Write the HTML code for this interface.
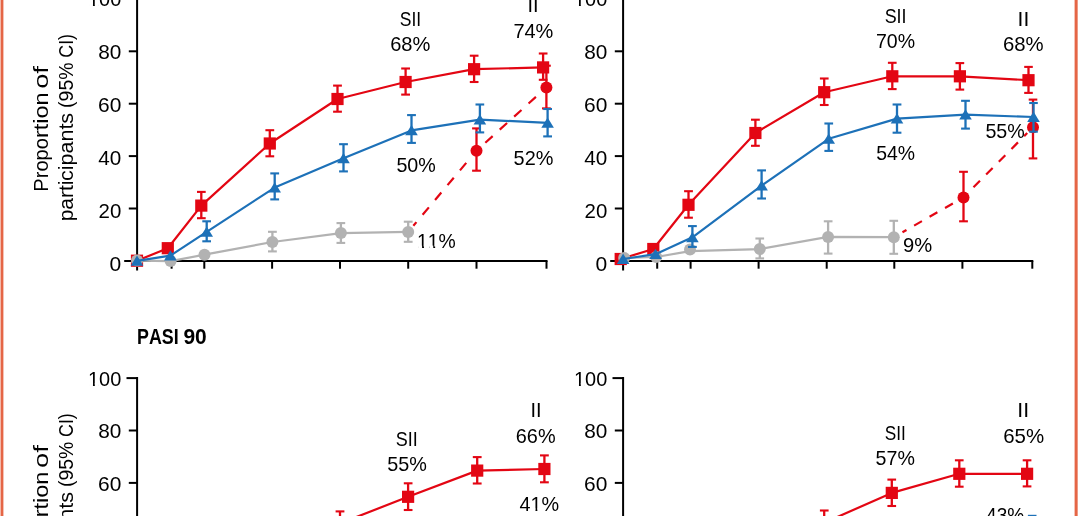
<!DOCTYPE html>
<html lang="en"><head><meta charset="utf-8"><title>PASI response figure</title>
<style>html,body{margin:0;padding:0;background:#fff}body{width:1078px;height:516px;overflow:hidden}svg{display:block}text{font-family:"Liberation Sans",sans-serif;fill:#000;font-kerning:none}</style>
</head><body>
<svg width="1078" height="516" viewBox="0 0 1078 516">
<rect width="1078" height="516" fill="#fff"/>
<rect x="0.55" y="-5" width="2.85" height="530" fill="#E56646"/>
<rect x="1074.6" y="-5" width="3.05" height="530" fill="#E56646"/>
<g id="chartA">
<line x1="137.1" y1="-2.1" x2="137.1" y2="270.5" stroke="#000" stroke-width="2"/>
<line x1="124.2" y1="260.9" x2="547.5" y2="260.9" stroke="#000" stroke-width="2"/>
<line x1="171.6" y1="260.9" x2="171.6" y2="268.7" stroke="#000" stroke-width="2"/>
<line x1="204.3" y1="260.9" x2="204.3" y2="268.7" stroke="#000" stroke-width="2"/>
<line x1="272.1" y1="260.9" x2="272.1" y2="268.7" stroke="#000" stroke-width="2"/>
<line x1="340.0" y1="260.9" x2="340.0" y2="268.7" stroke="#000" stroke-width="2"/>
<line x1="408.2" y1="260.9" x2="408.2" y2="268.7" stroke="#000" stroke-width="2"/>
<line x1="476.5" y1="260.9" x2="476.5" y2="268.7" stroke="#000" stroke-width="2"/>
<line x1="546.5" y1="260.9" x2="546.5" y2="268.7" stroke="#000" stroke-width="2"/>
<line x1="128.8" y1="208.5" x2="137.1" y2="208.5" stroke="#000" stroke-width="2"/>
<line x1="128.8" y1="156.1" x2="137.1" y2="156.1" stroke="#000" stroke-width="2"/>
<line x1="128.8" y1="103.7" x2="137.1" y2="103.7" stroke="#000" stroke-width="2"/>
<line x1="128.8" y1="51.3" x2="137.1" y2="51.3" stroke="#000" stroke-width="2"/>
<line x1="126.5" y1="-1.1" x2="137.1" y2="-1.1" stroke="#000" stroke-width="2"/>
<text x="109.61" y="270.75" font-size="20.4" textLength="11.70" lengthAdjust="spacingAndGlyphs">0</text>
<text x="98.58" y="218.30" font-size="20.4" textLength="22.74" lengthAdjust="spacingAndGlyphs">20</text>
<text x="98.33" y="165.20" font-size="20.4" textLength="22.99" lengthAdjust="spacingAndGlyphs">40</text>
<text x="98.05" y="112.20" font-size="20.4" textLength="23.28" lengthAdjust="spacingAndGlyphs">60</text>
<text x="98.22" y="58.97" font-size="20.4" textLength="23.11" lengthAdjust="spacingAndGlyphs">80</text>
<text x="88.00" y="6.40" font-size="20.4" textLength="33.26" lengthAdjust="spacingAndGlyphs">100</text>
<rect x="89.02" y="3.87" width="3.94" height="3.03" fill="#fff"/>
<rect x="94.83" y="3.87" width="3.78" height="3.03" fill="#fff"/>
<text transform="translate(47.80,0) rotate(-90)" font-size="20.4"><tspan x="-191.66" textLength="53.58" lengthAdjust="spacingAndGlyphs">Propo</tspan><tspan x="-138.13" textLength="45.70" lengthAdjust="spacingAndGlyphs">rtion</tspan> <tspan x="-88.86" textLength="22.84" lengthAdjust="spacingAndGlyphs">of</tspan></text>
<text transform="translate(72.70,0) rotate(-90)" font-size="20.4"><tspan x="-221.36" textLength="40.79" lengthAdjust="spacingAndGlyphs">parti</tspan><tspan x="-180.91" textLength="67.99" lengthAdjust="spacingAndGlyphs">cipants</tspan> <tspan x="-107.92" textLength="45.49" lengthAdjust="spacingAndGlyphs">(95%</tspan> <tspan x="-57.69" textLength="23.66" lengthAdjust="spacingAndGlyphs">CI)</tspan></text>
<polyline points="137.0,260.7 167.8,248.2 201.3,205.6 269.8,143.5 337.5,99.0 405.6,82.0 474.1,69.2 543.1,67.4" fill="none" stroke="#E30613" stroke-width="2.2" stroke-linejoin="round"/>
<line x1="201.3" y1="191.9" x2="201.3" y2="218.2" stroke="#E30613" stroke-width="2.3"/>
<line x1="197.0" y1="191.9" x2="205.7" y2="191.9" stroke="#E30613" stroke-width="2.1"/>
<line x1="197.0" y1="218.2" x2="205.7" y2="218.2" stroke="#E30613" stroke-width="2.1"/>
<line x1="269.8" y1="130.2" x2="269.8" y2="156.3" stroke="#E30613" stroke-width="2.3"/>
<line x1="265.4" y1="130.2" x2="274.2" y2="130.2" stroke="#E30613" stroke-width="2.1"/>
<line x1="265.4" y1="156.3" x2="274.2" y2="156.3" stroke="#E30613" stroke-width="2.1"/>
<line x1="337.5" y1="85.6" x2="337.5" y2="111.7" stroke="#E30613" stroke-width="2.3"/>
<line x1="333.1" y1="85.6" x2="341.9" y2="85.6" stroke="#E30613" stroke-width="2.1"/>
<line x1="333.1" y1="111.7" x2="341.9" y2="111.7" stroke="#E30613" stroke-width="2.1"/>
<line x1="405.6" y1="68.5" x2="405.6" y2="94.6" stroke="#E30613" stroke-width="2.3"/>
<line x1="401.2" y1="68.5" x2="410.0" y2="68.5" stroke="#E30613" stroke-width="2.1"/>
<line x1="401.2" y1="94.6" x2="410.0" y2="94.6" stroke="#E30613" stroke-width="2.1"/>
<line x1="474.1" y1="55.7" x2="474.1" y2="82.0" stroke="#E30613" stroke-width="2.3"/>
<line x1="469.8" y1="55.7" x2="478.5" y2="55.7" stroke="#E30613" stroke-width="2.1"/>
<line x1="469.8" y1="82.0" x2="478.5" y2="82.0" stroke="#E30613" stroke-width="2.1"/>
<line x1="543.1" y1="53.5" x2="543.1" y2="79.8" stroke="#E30613" stroke-width="2.3"/>
<line x1="538.8" y1="53.5" x2="547.5" y2="53.5" stroke="#E30613" stroke-width="2.1"/>
<line x1="538.8" y1="79.8" x2="547.5" y2="79.8" stroke="#E30613" stroke-width="2.1"/>
<rect x="130.9" y="254.6" width="12.2" height="12.2" fill="#E30613"/>
<rect x="161.7" y="242.1" width="12.2" height="12.2" fill="#E30613"/>
<rect x="195.2" y="199.5" width="12.2" height="12.2" fill="#E30613"/>
<rect x="263.7" y="137.4" width="12.2" height="12.2" fill="#E30613"/>
<rect x="331.4" y="92.9" width="12.2" height="12.2" fill="#E30613"/>
<rect x="399.5" y="75.9" width="12.2" height="12.2" fill="#E30613"/>
<rect x="468.0" y="63.1" width="12.2" height="12.2" fill="#E30613"/>
<rect x="537.0" y="61.3" width="12.2" height="12.2" fill="#E30613"/>
<line x1="413.35" y1="225.78" x2="471.22" y2="156.98" stroke="#E30613" stroke-width="2.2" stroke-dasharray="9.7 9.65" stroke-dashoffset="4.95"/>
<line x1="476.50" y1="150.70" x2="540.32" y2="92.90" stroke="#E30613" stroke-width="2.2" stroke-dasharray="9.9 9.55" stroke-dashoffset="7.55"/>
<line x1="476.5" y1="128.4" x2="476.5" y2="170.7" stroke="#E30613" stroke-width="2.3"/>
<line x1="472.1" y1="128.4" x2="480.9" y2="128.4" stroke="#E30613" stroke-width="2.1"/>
<line x1="472.1" y1="170.7" x2="480.9" y2="170.7" stroke="#E30613" stroke-width="2.1"/>
<line x1="546.4" y1="65.7" x2="546.4" y2="108.4" stroke="#E30613" stroke-width="2.3"/>
<line x1="542.0" y1="65.7" x2="550.8" y2="65.7" stroke="#E30613" stroke-width="2.1"/>
<line x1="542.0" y1="108.4" x2="550.8" y2="108.4" stroke="#E30613" stroke-width="2.1"/>
<circle cx="476.5" cy="150.7" r="6" fill="#E30613"/>
<circle cx="546.4" cy="87.4" r="6" fill="#E30613"/>
<polyline points="137.0,260.6 170.6,261.1 204.5,254.7 272.4,242.0 340.9,233.1 408.2,231.9" fill="none" stroke="#B2B2B2" stroke-width="2.2" stroke-linejoin="round"/>
<line x1="272.4" y1="231.8" x2="272.4" y2="251.4" stroke="#B2B2B2" stroke-width="2.3"/>
<line x1="268.0" y1="231.8" x2="276.8" y2="231.8" stroke="#B2B2B2" stroke-width="2.1"/>
<line x1="268.0" y1="251.4" x2="276.8" y2="251.4" stroke="#B2B2B2" stroke-width="2.1"/>
<line x1="340.9" y1="223.1" x2="340.9" y2="242.9" stroke="#B2B2B2" stroke-width="2.3"/>
<line x1="336.5" y1="223.1" x2="345.2" y2="223.1" stroke="#B2B2B2" stroke-width="2.1"/>
<line x1="336.5" y1="242.9" x2="345.2" y2="242.9" stroke="#B2B2B2" stroke-width="2.1"/>
<line x1="408.2" y1="221.7" x2="408.2" y2="241.8" stroke="#B2B2B2" stroke-width="2.3"/>
<line x1="403.8" y1="221.7" x2="412.6" y2="221.7" stroke="#B2B2B2" stroke-width="2.1"/>
<line x1="403.8" y1="241.8" x2="412.6" y2="241.8" stroke="#B2B2B2" stroke-width="2.1"/>
<circle cx="137.0" cy="260.6" r="6" fill="#B2B2B2"/>
<circle cx="170.6" cy="261.1" r="6" fill="#B2B2B2"/>
<circle cx="204.5" cy="254.7" r="6" fill="#B2B2B2"/>
<circle cx="272.4" cy="242.0" r="6" fill="#B2B2B2"/>
<circle cx="340.9" cy="233.1" r="6" fill="#B2B2B2"/>
<circle cx="408.2" cy="231.9" r="6" fill="#B2B2B2"/>
<polyline points="137.0,260.9 170.4,255.6 206.7,231.8 274.7,187.6 343.5,158.3 411.5,130.4 479.9,119.6 547.6,122.9" fill="none" stroke="#1D71B8" stroke-width="2.2" stroke-linejoin="round"/>
<line x1="206.7" y1="221.3" x2="206.7" y2="241.3" stroke="#1D71B8" stroke-width="2.3"/>
<line x1="202.3" y1="221.3" x2="211.0" y2="221.3" stroke="#1D71B8" stroke-width="2.1"/>
<line x1="202.3" y1="241.3" x2="211.0" y2="241.3" stroke="#1D71B8" stroke-width="2.1"/>
<line x1="274.7" y1="173.4" x2="274.7" y2="199.4" stroke="#1D71B8" stroke-width="2.3"/>
<line x1="270.3" y1="173.4" x2="279.1" y2="173.4" stroke="#1D71B8" stroke-width="2.1"/>
<line x1="270.3" y1="199.4" x2="279.1" y2="199.4" stroke="#1D71B8" stroke-width="2.1"/>
<line x1="343.5" y1="144.2" x2="343.5" y2="171.4" stroke="#1D71B8" stroke-width="2.3"/>
<line x1="339.1" y1="144.2" x2="347.9" y2="144.2" stroke="#1D71B8" stroke-width="2.1"/>
<line x1="339.1" y1="171.4" x2="347.9" y2="171.4" stroke="#1D71B8" stroke-width="2.1"/>
<line x1="411.5" y1="115.1" x2="411.5" y2="142.9" stroke="#1D71B8" stroke-width="2.3"/>
<line x1="407.1" y1="115.1" x2="415.9" y2="115.1" stroke="#1D71B8" stroke-width="2.1"/>
<line x1="407.1" y1="142.9" x2="415.9" y2="142.9" stroke="#1D71B8" stroke-width="2.1"/>
<line x1="479.9" y1="104.5" x2="479.9" y2="132.4" stroke="#1D71B8" stroke-width="2.3"/>
<line x1="475.5" y1="104.5" x2="484.2" y2="104.5" stroke="#1D71B8" stroke-width="2.1"/>
<line x1="475.5" y1="132.4" x2="484.2" y2="132.4" stroke="#1D71B8" stroke-width="2.1"/>
<line x1="547.6" y1="109.0" x2="547.6" y2="136.4" stroke="#1D71B8" stroke-width="2.3"/>
<line x1="543.2" y1="109.0" x2="552.0" y2="109.0" stroke="#1D71B8" stroke-width="2.1"/>
<line x1="543.2" y1="136.4" x2="552.0" y2="136.4" stroke="#1D71B8" stroke-width="2.1"/>
<polygon points="137.0,255.5 130.7,265.8 143.3,265.8" fill="#1D71B8"/>
<polygon points="170.4,250.2 164.1,260.5 176.7,260.5" fill="#1D71B8"/>
<polygon points="206.7,226.4 200.4,236.7 213.0,236.7" fill="#1D71B8"/>
<polygon points="274.7,182.2 268.4,192.5 281.0,192.5" fill="#1D71B8"/>
<polygon points="343.5,152.9 337.2,163.2 349.8,163.2" fill="#1D71B8"/>
<polygon points="411.5,125.0 405.2,135.3 417.8,135.3" fill="#1D71B8"/>
<polygon points="479.9,114.2 473.6,124.5 486.2,124.5" fill="#1D71B8"/>
<polygon points="547.6,117.5 541.3,127.8 553.9,127.8" fill="#1D71B8"/>
<text x="399.71" y="26.00" font-size="20.4" textLength="21.41" lengthAdjust="spacingAndGlyphs">SII</text>
<text x="390.20" y="51.30" font-size="20.4" textLength="40.19" lengthAdjust="spacingAndGlyphs">68%</text>
<text x="527.45" y="12.20" font-size="20.4" textLength="11.11" lengthAdjust="spacingAndGlyphs">II</text>
<text x="513.40" y="37.70" font-size="20.4" textLength="39.98" lengthAdjust="spacingAndGlyphs">74%</text>
<text x="396.41" y="171.50" font-size="20.4" textLength="39.36" lengthAdjust="spacingAndGlyphs">50%</text>
<text x="513.61" y="165.30" font-size="20.4" textLength="39.77" lengthAdjust="spacingAndGlyphs">52%</text>
<text x="417.09" y="248.10" font-size="20.4" textLength="38.71" lengthAdjust="spacingAndGlyphs">11%</text>
<rect x="418.12" y="245.57" width="3.96" height="3.03" fill="#fff"/>
<rect x="423.97" y="245.57" width="3.80" height="3.03" fill="#fff"/>
<rect x="429.29" y="245.57" width="3.96" height="3.03" fill="#fff"/>
<rect x="435.14" y="245.57" width="3.80" height="3.03" fill="#fff"/>
</g>
<g id="chartB">
<line x1="623.1" y1="-2.1" x2="623.1" y2="270.5" stroke="#000" stroke-width="2"/>
<line x1="610.2" y1="260.9" x2="1033.3" y2="260.9" stroke="#000" stroke-width="2"/>
<line x1="657.2" y1="260.9" x2="657.2" y2="268.7" stroke="#000" stroke-width="2"/>
<line x1="690.6" y1="260.9" x2="690.6" y2="268.7" stroke="#000" stroke-width="2"/>
<line x1="758.6" y1="260.9" x2="758.6" y2="268.7" stroke="#000" stroke-width="2"/>
<line x1="826.7" y1="260.9" x2="826.7" y2="268.7" stroke="#000" stroke-width="2"/>
<line x1="894.3" y1="260.9" x2="894.3" y2="268.7" stroke="#000" stroke-width="2"/>
<line x1="962.4" y1="260.9" x2="962.4" y2="268.7" stroke="#000" stroke-width="2"/>
<line x1="1032.3" y1="260.9" x2="1032.3" y2="268.7" stroke="#000" stroke-width="2"/>
<line x1="614.8" y1="208.5" x2="623.1" y2="208.5" stroke="#000" stroke-width="2"/>
<line x1="614.8" y1="156.1" x2="623.1" y2="156.1" stroke="#000" stroke-width="2"/>
<line x1="614.8" y1="103.7" x2="623.1" y2="103.7" stroke="#000" stroke-width="2"/>
<line x1="614.8" y1="51.3" x2="623.1" y2="51.3" stroke="#000" stroke-width="2"/>
<line x1="612.5" y1="-1.1" x2="623.1" y2="-1.1" stroke="#000" stroke-width="2"/>
<text x="595.61" y="270.75" font-size="20.4" textLength="11.70" lengthAdjust="spacingAndGlyphs">0</text>
<text x="584.58" y="218.30" font-size="20.4" textLength="22.74" lengthAdjust="spacingAndGlyphs">20</text>
<text x="584.34" y="165.20" font-size="20.4" textLength="22.99" lengthAdjust="spacingAndGlyphs">40</text>
<text x="584.05" y="112.20" font-size="20.4" textLength="23.28" lengthAdjust="spacingAndGlyphs">60</text>
<text x="584.22" y="58.97" font-size="20.4" textLength="23.11" lengthAdjust="spacingAndGlyphs">80</text>
<text x="574.00" y="6.40" font-size="20.4" textLength="33.26" lengthAdjust="spacingAndGlyphs">100</text>
<rect x="575.02" y="3.87" width="3.94" height="3.03" fill="#fff"/>
<rect x="580.83" y="3.87" width="3.78" height="3.03" fill="#fff"/>
<polyline points="620.7,259.0 653.3,249.0 688.5,204.8 755.4,133.0 824.2,92.2 892.3,76.3 959.9,76.3 1028.5,80.2" fill="none" stroke="#E30613" stroke-width="2.2" stroke-linejoin="round"/>
<line x1="688.5" y1="191.2" x2="688.5" y2="217.7" stroke="#E30613" stroke-width="2.3"/>
<line x1="684.1" y1="191.2" x2="692.9" y2="191.2" stroke="#E30613" stroke-width="2.1"/>
<line x1="684.1" y1="217.7" x2="692.9" y2="217.7" stroke="#E30613" stroke-width="2.1"/>
<line x1="755.4" y1="119.7" x2="755.4" y2="145.8" stroke="#E30613" stroke-width="2.3"/>
<line x1="751.0" y1="119.7" x2="759.8" y2="119.7" stroke="#E30613" stroke-width="2.1"/>
<line x1="751.0" y1="145.8" x2="759.8" y2="145.8" stroke="#E30613" stroke-width="2.1"/>
<line x1="824.2" y1="78.5" x2="824.2" y2="105.0" stroke="#E30613" stroke-width="2.3"/>
<line x1="819.9" y1="78.5" x2="828.6" y2="78.5" stroke="#E30613" stroke-width="2.1"/>
<line x1="819.9" y1="105.0" x2="828.6" y2="105.0" stroke="#E30613" stroke-width="2.1"/>
<line x1="892.3" y1="62.8" x2="892.3" y2="89.1" stroke="#E30613" stroke-width="2.3"/>
<line x1="887.9" y1="62.8" x2="896.6" y2="62.8" stroke="#E30613" stroke-width="2.1"/>
<line x1="887.9" y1="89.1" x2="896.6" y2="89.1" stroke="#E30613" stroke-width="2.1"/>
<line x1="959.9" y1="63.1" x2="959.9" y2="89.6" stroke="#E30613" stroke-width="2.3"/>
<line x1="955.5" y1="63.1" x2="964.2" y2="63.1" stroke="#E30613" stroke-width="2.1"/>
<line x1="955.5" y1="89.6" x2="964.2" y2="89.6" stroke="#E30613" stroke-width="2.1"/>
<line x1="1028.5" y1="66.9" x2="1028.5" y2="92.9" stroke="#E30613" stroke-width="2.3"/>
<line x1="1024.2" y1="66.9" x2="1032.8" y2="66.9" stroke="#E30613" stroke-width="2.1"/>
<line x1="1024.2" y1="92.9" x2="1032.8" y2="92.9" stroke="#E30613" stroke-width="2.1"/>
<rect x="614.6" y="252.9" width="12.2" height="12.2" fill="#E30613"/>
<rect x="647.2" y="242.9" width="12.2" height="12.2" fill="#E30613"/>
<rect x="682.4" y="198.7" width="12.2" height="12.2" fill="#E30613"/>
<rect x="749.3" y="126.9" width="12.2" height="12.2" fill="#E30613"/>
<rect x="818.1" y="86.1" width="12.2" height="12.2" fill="#E30613"/>
<rect x="886.2" y="70.2" width="12.2" height="12.2" fill="#E30613"/>
<rect x="953.8" y="70.2" width="12.2" height="12.2" fill="#E30613"/>
<rect x="1022.4" y="74.1" width="12.2" height="12.2" fill="#E30613"/>
<line x1="902.48" y1="232.24" x2="956.38" y2="201.47" stroke="#E30613" stroke-width="2.2" stroke-dasharray="9.0 8.8" stroke-dashoffset="4.40"/>
<line x1="963.50" y1="197.40" x2="1027.23" y2="133.03" stroke="#E30613" stroke-width="2.2" stroke-dasharray="9.2 8.8" stroke-dashoffset="3.80"/>
<line x1="963.5" y1="171.8" x2="963.5" y2="221.3" stroke="#E30613" stroke-width="2.3"/>
<line x1="959.1" y1="171.8" x2="967.9" y2="171.8" stroke="#E30613" stroke-width="2.1"/>
<line x1="959.1" y1="221.3" x2="967.9" y2="221.3" stroke="#E30613" stroke-width="2.1"/>
<line x1="1033.0" y1="99.6" x2="1033.0" y2="158.4" stroke="#E30613" stroke-width="2.3"/>
<line x1="1028.7" y1="99.6" x2="1037.3" y2="99.6" stroke="#E30613" stroke-width="2.1"/>
<line x1="1028.7" y1="158.4" x2="1037.3" y2="158.4" stroke="#E30613" stroke-width="2.1"/>
<circle cx="963.5" cy="197.4" r="6" fill="#E30613"/>
<circle cx="1033.0" cy="127.2" r="6" fill="#E30613"/>
<polyline points="624.2,258.0 656.2,257.0 690.0,251.1 759.8,249.1 828.1,236.9 893.8,237.2" fill="none" stroke="#B2B2B2" stroke-width="2.2" stroke-linejoin="round"/>
<line x1="759.8" y1="238.5" x2="759.8" y2="258.4" stroke="#B2B2B2" stroke-width="2.3"/>
<line x1="755.4" y1="238.5" x2="764.1" y2="238.5" stroke="#B2B2B2" stroke-width="2.1"/>
<line x1="755.4" y1="258.4" x2="764.1" y2="258.4" stroke="#B2B2B2" stroke-width="2.1"/>
<line x1="828.1" y1="221.3" x2="828.1" y2="253.6" stroke="#B2B2B2" stroke-width="2.3"/>
<line x1="823.8" y1="221.3" x2="832.5" y2="221.3" stroke="#B2B2B2" stroke-width="2.1"/>
<line x1="823.8" y1="253.6" x2="832.5" y2="253.6" stroke="#B2B2B2" stroke-width="2.1"/>
<line x1="893.8" y1="220.8" x2="893.8" y2="253.8" stroke="#B2B2B2" stroke-width="2.3"/>
<line x1="889.4" y1="220.8" x2="898.1" y2="220.8" stroke="#B2B2B2" stroke-width="2.1"/>
<line x1="889.4" y1="253.8" x2="898.1" y2="253.8" stroke="#B2B2B2" stroke-width="2.1"/>
<circle cx="624.2" cy="258.0" r="6" fill="#B2B2B2"/>
<circle cx="656.2" cy="257.0" r="6" fill="#B2B2B2"/>
<circle cx="690.0" cy="249.4" r="6" fill="#B2B2B2"/>
<circle cx="759.8" cy="249.1" r="6" fill="#B2B2B2"/>
<circle cx="828.1" cy="236.9" r="6" fill="#B2B2B2"/>
<circle cx="893.8" cy="237.2" r="6" fill="#B2B2B2"/>
<polyline points="623.1,259.0 655.5,254.2 692.4,237.3 761.6,185.6 828.7,138.8 897.0,118.6 965.5,114.7 1033.5,117.0" fill="none" stroke="#1D71B8" stroke-width="2.2" stroke-linejoin="round"/>
<line x1="692.4" y1="226.1" x2="692.4" y2="246.9" stroke="#1D71B8" stroke-width="2.3"/>
<line x1="688.0" y1="226.1" x2="696.8" y2="226.1" stroke="#1D71B8" stroke-width="2.1"/>
<line x1="688.0" y1="246.9" x2="696.8" y2="246.9" stroke="#1D71B8" stroke-width="2.1"/>
<line x1="761.6" y1="170.4" x2="761.6" y2="198.5" stroke="#1D71B8" stroke-width="2.3"/>
<line x1="757.2" y1="170.4" x2="766.0" y2="170.4" stroke="#1D71B8" stroke-width="2.1"/>
<line x1="757.2" y1="198.5" x2="766.0" y2="198.5" stroke="#1D71B8" stroke-width="2.1"/>
<line x1="828.7" y1="123.5" x2="828.7" y2="150.9" stroke="#1D71B8" stroke-width="2.3"/>
<line x1="824.4" y1="123.5" x2="833.1" y2="123.5" stroke="#1D71B8" stroke-width="2.1"/>
<line x1="824.4" y1="150.9" x2="833.1" y2="150.9" stroke="#1D71B8" stroke-width="2.1"/>
<line x1="897.0" y1="104.5" x2="897.0" y2="132.7" stroke="#1D71B8" stroke-width="2.3"/>
<line x1="892.6" y1="104.5" x2="901.4" y2="104.5" stroke="#1D71B8" stroke-width="2.1"/>
<line x1="892.6" y1="132.7" x2="901.4" y2="132.7" stroke="#1D71B8" stroke-width="2.1"/>
<line x1="965.5" y1="100.8" x2="965.5" y2="128.6" stroke="#1D71B8" stroke-width="2.3"/>
<line x1="961.1" y1="100.8" x2="969.9" y2="100.8" stroke="#1D71B8" stroke-width="2.1"/>
<line x1="961.1" y1="128.6" x2="969.9" y2="128.6" stroke="#1D71B8" stroke-width="2.1"/>
<line x1="1033.5" y1="103.0" x2="1033.5" y2="131.7" stroke="#1D71B8" stroke-width="2.3"/>
<line x1="1029.2" y1="103.0" x2="1037.8" y2="103.0" stroke="#1D71B8" stroke-width="2.1"/>
<line x1="1029.2" y1="131.7" x2="1037.8" y2="131.7" stroke="#1D71B8" stroke-width="2.1"/>
<polygon points="623.1,253.6 616.8,263.9 629.4,263.9" fill="#1D71B8"/>
<polygon points="655.5,248.8 649.2,259.1 661.8,259.1" fill="#1D71B8"/>
<polygon points="692.4,231.9 686.1,242.2 698.7,242.2" fill="#1D71B8"/>
<polygon points="761.6,180.2 755.3,190.5 767.9,190.5" fill="#1D71B8"/>
<polygon points="828.7,133.4 822.4,143.7 835.0,143.7" fill="#1D71B8"/>
<polygon points="897.0,113.2 890.7,123.5 903.3,123.5" fill="#1D71B8"/>
<polygon points="965.5,109.3 959.2,119.6 971.8,119.6" fill="#1D71B8"/>
<polygon points="1033.5,111.6 1027.2,121.9 1039.8,121.9" fill="#1D71B8"/>
<text x="884.70" y="23.20" font-size="20.4" textLength="21.86" lengthAdjust="spacingAndGlyphs">SII</text>
<text x="876.02" y="48.00" font-size="20.4" textLength="39.04" lengthAdjust="spacingAndGlyphs">70%</text>
<text x="1017.55" y="26.20" font-size="20.4" textLength="11.71" lengthAdjust="spacingAndGlyphs">II</text>
<text x="1002.98" y="50.90" font-size="20.4" textLength="40.71" lengthAdjust="spacingAndGlyphs">68%</text>
<text x="876.22" y="159.70" font-size="20.4" textLength="38.84" lengthAdjust="spacingAndGlyphs">54%</text>
<text x="985.41" y="137.60" font-size="20.4" textLength="39.36" lengthAdjust="spacingAndGlyphs">55%</text>
<text x="903.04" y="251.50" font-size="20.4" textLength="29.17" lengthAdjust="spacingAndGlyphs">9%</text>
</g>
<text x="137.06" y="343.50" font-size="21.2" textLength="41.64" lengthAdjust="spacingAndGlyphs" font-weight="bold">PASI</text>
<text x="183.47" y="343.50" font-size="21.2" textLength="23.32" lengthAdjust="spacingAndGlyphs" font-weight="bold">90</text>
<g id="chartC">
<line x1="137.1" y1="377.1" x2="137.1" y2="649.7" stroke="#000" stroke-width="2"/>
<line x1="124.2" y1="640.1" x2="547.5" y2="640.1" stroke="#000" stroke-width="2"/>
<line x1="171.6" y1="640.1" x2="171.6" y2="647.9" stroke="#000" stroke-width="2"/>
<line x1="204.3" y1="640.1" x2="204.3" y2="647.9" stroke="#000" stroke-width="2"/>
<line x1="272.1" y1="640.1" x2="272.1" y2="647.9" stroke="#000" stroke-width="2"/>
<line x1="340.0" y1="640.1" x2="340.0" y2="647.9" stroke="#000" stroke-width="2"/>
<line x1="408.2" y1="640.1" x2="408.2" y2="647.9" stroke="#000" stroke-width="2"/>
<line x1="476.5" y1="640.1" x2="476.5" y2="647.9" stroke="#000" stroke-width="2"/>
<line x1="546.5" y1="640.1" x2="546.5" y2="647.9" stroke="#000" stroke-width="2"/>
<line x1="128.8" y1="587.7" x2="137.1" y2="587.7" stroke="#000" stroke-width="2"/>
<line x1="128.8" y1="535.3" x2="137.1" y2="535.3" stroke="#000" stroke-width="2"/>
<line x1="128.8" y1="482.9" x2="137.1" y2="482.9" stroke="#000" stroke-width="2"/>
<line x1="128.8" y1="430.5" x2="137.1" y2="430.5" stroke="#000" stroke-width="2"/>
<line x1="126.5" y1="378.1" x2="137.1" y2="378.1" stroke="#000" stroke-width="2"/>
<text x="109.61" y="649.95" font-size="20.4" textLength="11.70" lengthAdjust="spacingAndGlyphs">0</text>
<text x="98.58" y="597.50" font-size="20.4" textLength="22.74" lengthAdjust="spacingAndGlyphs">20</text>
<text x="98.33" y="544.40" font-size="20.4" textLength="22.99" lengthAdjust="spacingAndGlyphs">40</text>
<text x="98.05" y="491.40" font-size="20.4" textLength="23.28" lengthAdjust="spacingAndGlyphs">60</text>
<text x="98.22" y="438.17" font-size="20.4" textLength="23.11" lengthAdjust="spacingAndGlyphs">80</text>
<text x="88.00" y="385.60" font-size="20.4" textLength="33.26" lengthAdjust="spacingAndGlyphs">100</text>
<rect x="89.02" y="383.07" width="3.94" height="3.03" fill="#fff"/>
<rect x="94.83" y="383.07" width="3.78" height="3.03" fill="#fff"/>
<text transform="translate(47.80,0) rotate(-90)" font-size="20.4"><tspan x="-570.86" textLength="53.58" lengthAdjust="spacingAndGlyphs">Propo</tspan><tspan x="-517.33" textLength="45.70" lengthAdjust="spacingAndGlyphs">rtion</tspan> <tspan x="-468.06" textLength="22.84" lengthAdjust="spacingAndGlyphs">of</tspan></text>
<text transform="translate(72.70,0) rotate(-90)" font-size="20.4"><tspan x="-600.56" textLength="40.79" lengthAdjust="spacingAndGlyphs">parti</tspan><tspan x="-560.11" textLength="67.99" lengthAdjust="spacingAndGlyphs">cipants</tspan> <tspan x="-487.12" textLength="45.49" lengthAdjust="spacingAndGlyphs">(95%</tspan> <tspan x="-436.89" textLength="23.66" lengthAdjust="spacingAndGlyphs">CI)</tspan></text>
<polyline points="340.0,523.4 408.1,496.8 477.2,470.6 544.4,469.0" fill="none" stroke="#E30613" stroke-width="2.2" stroke-linejoin="round"/>
<line x1="340.0" y1="511.4" x2="340.0" y2="536.0" stroke="#E30613" stroke-width="2.3"/>
<line x1="335.6" y1="511.4" x2="344.4" y2="511.4" stroke="#E30613" stroke-width="2.1"/>
<line x1="335.6" y1="536.0" x2="344.4" y2="536.0" stroke="#E30613" stroke-width="2.1"/>
<line x1="408.1" y1="483.3" x2="408.1" y2="510.0" stroke="#E30613" stroke-width="2.3"/>
<line x1="403.8" y1="483.3" x2="412.5" y2="483.3" stroke="#E30613" stroke-width="2.1"/>
<line x1="403.8" y1="510.0" x2="412.5" y2="510.0" stroke="#E30613" stroke-width="2.1"/>
<line x1="477.2" y1="457.1" x2="477.2" y2="483.5" stroke="#E30613" stroke-width="2.3"/>
<line x1="472.8" y1="457.1" x2="481.6" y2="457.1" stroke="#E30613" stroke-width="2.1"/>
<line x1="472.8" y1="483.5" x2="481.6" y2="483.5" stroke="#E30613" stroke-width="2.1"/>
<line x1="544.4" y1="455.4" x2="544.4" y2="482.3" stroke="#E30613" stroke-width="2.3"/>
<line x1="540.0" y1="455.4" x2="548.8" y2="455.4" stroke="#E30613" stroke-width="2.1"/>
<line x1="540.0" y1="482.3" x2="548.8" y2="482.3" stroke="#E30613" stroke-width="2.1"/>
<rect x="333.9" y="517.3" width="12.2" height="12.2" fill="#E30613"/>
<rect x="402.0" y="490.7" width="12.2" height="12.2" fill="#E30613"/>
<rect x="471.1" y="464.5" width="12.2" height="12.2" fill="#E30613"/>
<rect x="538.3" y="462.9" width="12.2" height="12.2" fill="#E30613"/>
<text x="395.69" y="446.30" font-size="20.4" textLength="21.97" lengthAdjust="spacingAndGlyphs">SII</text>
<text x="387.31" y="471.00" font-size="20.4" textLength="39.67" lengthAdjust="spacingAndGlyphs">55%</text>
<text x="530.55" y="417.00" font-size="20.4" textLength="11.11" lengthAdjust="spacingAndGlyphs">II</text>
<text x="515.81" y="442.90" font-size="20.4" textLength="39.77" lengthAdjust="spacingAndGlyphs">66%</text>
<text x="519.55" y="511.00" font-size="20.4" textLength="39.62" lengthAdjust="spacingAndGlyphs">41%</text>
<rect x="531.57" y="508.47" width="3.91" height="3.03" fill="#fff"/>
<rect x="537.34" y="508.47" width="3.76" height="3.03" fill="#fff"/>
</g>
<g id="chartD">
<line x1="623.1" y1="377.1" x2="623.1" y2="649.7" stroke="#000" stroke-width="2"/>
<line x1="610.2" y1="640.1" x2="1033.3" y2="640.1" stroke="#000" stroke-width="2"/>
<line x1="657.2" y1="640.1" x2="657.2" y2="647.9" stroke="#000" stroke-width="2"/>
<line x1="690.6" y1="640.1" x2="690.6" y2="647.9" stroke="#000" stroke-width="2"/>
<line x1="758.6" y1="640.1" x2="758.6" y2="647.9" stroke="#000" stroke-width="2"/>
<line x1="826.7" y1="640.1" x2="826.7" y2="647.9" stroke="#000" stroke-width="2"/>
<line x1="894.3" y1="640.1" x2="894.3" y2="647.9" stroke="#000" stroke-width="2"/>
<line x1="962.4" y1="640.1" x2="962.4" y2="647.9" stroke="#000" stroke-width="2"/>
<line x1="1032.3" y1="640.1" x2="1032.3" y2="647.9" stroke="#000" stroke-width="2"/>
<line x1="614.8" y1="587.7" x2="623.1" y2="587.7" stroke="#000" stroke-width="2"/>
<line x1="614.8" y1="535.3" x2="623.1" y2="535.3" stroke="#000" stroke-width="2"/>
<line x1="614.8" y1="482.9" x2="623.1" y2="482.9" stroke="#000" stroke-width="2"/>
<line x1="614.8" y1="430.5" x2="623.1" y2="430.5" stroke="#000" stroke-width="2"/>
<line x1="612.5" y1="378.1" x2="623.1" y2="378.1" stroke="#000" stroke-width="2"/>
<text x="595.61" y="649.95" font-size="20.4" textLength="11.70" lengthAdjust="spacingAndGlyphs">0</text>
<text x="584.58" y="597.50" font-size="20.4" textLength="22.74" lengthAdjust="spacingAndGlyphs">20</text>
<text x="584.34" y="544.40" font-size="20.4" textLength="22.99" lengthAdjust="spacingAndGlyphs">40</text>
<text x="584.05" y="491.40" font-size="20.4" textLength="23.28" lengthAdjust="spacingAndGlyphs">60</text>
<text x="584.22" y="438.17" font-size="20.4" textLength="23.11" lengthAdjust="spacingAndGlyphs">80</text>
<text x="574.00" y="385.60" font-size="20.4" textLength="33.26" lengthAdjust="spacingAndGlyphs">100</text>
<rect x="575.02" y="383.07" width="3.94" height="3.03" fill="#fff"/>
<rect x="580.83" y="383.07" width="3.78" height="3.03" fill="#fff"/>
<polyline points="824.2,522.8 891.8,492.9 959.3,473.8 1027.1,473.8" fill="none" stroke="#E30613" stroke-width="2.2" stroke-linejoin="round"/>
<line x1="824.2" y1="510.5" x2="824.2" y2="535.0" stroke="#E30613" stroke-width="2.3"/>
<line x1="819.9" y1="510.5" x2="828.6" y2="510.5" stroke="#E30613" stroke-width="2.1"/>
<line x1="819.9" y1="535.0" x2="828.6" y2="535.0" stroke="#E30613" stroke-width="2.1"/>
<line x1="891.8" y1="479.6" x2="891.8" y2="506.0" stroke="#E30613" stroke-width="2.3"/>
<line x1="887.4" y1="479.6" x2="896.1" y2="479.6" stroke="#E30613" stroke-width="2.1"/>
<line x1="887.4" y1="506.0" x2="896.1" y2="506.0" stroke="#E30613" stroke-width="2.1"/>
<line x1="959.3" y1="460.3" x2="959.3" y2="486.7" stroke="#E30613" stroke-width="2.3"/>
<line x1="954.9" y1="460.3" x2="963.6" y2="460.3" stroke="#E30613" stroke-width="2.1"/>
<line x1="954.9" y1="486.7" x2="963.6" y2="486.7" stroke="#E30613" stroke-width="2.1"/>
<line x1="1027.1" y1="460.3" x2="1027.1" y2="486.4" stroke="#E30613" stroke-width="2.3"/>
<line x1="1022.7" y1="460.3" x2="1031.4" y2="460.3" stroke="#E30613" stroke-width="2.1"/>
<line x1="1022.7" y1="486.4" x2="1031.4" y2="486.4" stroke="#E30613" stroke-width="2.1"/>
<rect x="818.1" y="516.7" width="12.2" height="12.2" fill="#E30613"/>
<rect x="885.7" y="486.8" width="12.2" height="12.2" fill="#E30613"/>
<rect x="953.2" y="467.7" width="12.2" height="12.2" fill="#E30613"/>
<rect x="1021.0" y="467.7" width="12.2" height="12.2" fill="#E30613"/>
<text x="884.72" y="440.20" font-size="20.4" textLength="21.07" lengthAdjust="spacingAndGlyphs">SII</text>
<text x="875.62" y="464.90" font-size="20.4" textLength="39.25" lengthAdjust="spacingAndGlyphs">57%</text>
<text x="1017.23" y="417.00" font-size="20.4" textLength="11.87" lengthAdjust="spacingAndGlyphs">II</text>
<text x="1003.18" y="442.50" font-size="20.4" textLength="40.92" lengthAdjust="spacingAndGlyphs">65%</text>
<text x="986.07" y="522.00" font-size="20.4" textLength="38.08" lengthAdjust="spacingAndGlyphs">43%</text>
<line x1="1027.9" y1="515.8" x2="1036.5" y2="515.8" stroke="#1D71B8" stroke-width="2"/>
</g>
</svg></body></html>
